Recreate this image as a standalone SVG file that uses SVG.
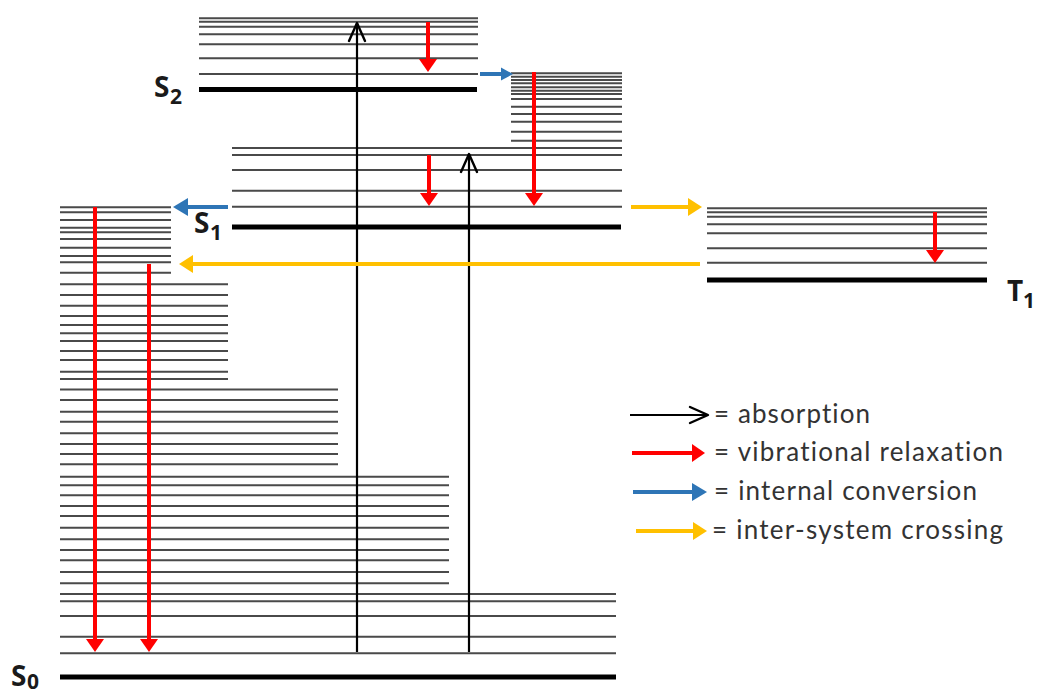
<svg xmlns="http://www.w3.org/2000/svg" width="1042" height="695" viewBox="0 0 1042 695">
<style>
.v{stroke:#4a4a4a;stroke-width:2;fill:none}
.g{stroke:#000;stroke-width:5;fill:none}
.abs{stroke:#000;stroke-width:2.2;fill:none}
.red{stroke:#ff0000;stroke-width:4;fill:none}
.blue{stroke:#2e75b6;stroke-width:4;fill:none}
.yel{stroke:#ffc000;stroke-width:4;fill:none}
.lbl{font-family:"Open Sans","Liberation Sans",sans-serif;font-weight:700;fill:#1a1a1a}
.big{font-size:28px}
.sub{font-size:21px}
.leg{font-family:Lato,"Open Sans","Liberation Sans",sans-serif;font-size:26px;fill:#333;font-variant-ligatures:none}
</style>
<defs>
<marker id="mAbs" markerUnits="userSpaceOnUse" markerWidth="40" markerHeight="40" refX="0" refY="0" orient="auto" overflow="visible"><path d="M-18,-8 L0,0 L-18,8" fill="none" stroke="#000" stroke-width="2.4" stroke-linejoin="round" stroke-linecap="round"/></marker>
<marker id="mRed" markerUnits="userSpaceOnUse" markerWidth="40" markerHeight="40" refX="0" refY="0" orient="auto" overflow="visible"><path d="M0,-9 L13,0 L0,9Z" fill="#ff0000"/></marker>
<marker id="mBlue" markerUnits="userSpaceOnUse" markerWidth="40" markerHeight="40" refX="0" refY="0" orient="auto" overflow="visible"><path d="M0,-9 L15,0 L0,9Z" fill="#2e75b6"/></marker>
<marker id="mBlueS" markerUnits="userSpaceOnUse" markerWidth="40" markerHeight="40" refX="0" refY="0" orient="auto" overflow="visible"><path d="M0,-6.5 L12,0 L0,6.5Z" fill="#2e75b6"/></marker>
<marker id="mYel" markerUnits="userSpaceOnUse" markerWidth="40" markerHeight="40" refX="0" refY="0" orient="auto" overflow="visible"><path d="M0,-9 L14,0 L0,9Z" fill="#ffc000"/></marker>
</defs>

<g id="S2">
<path class="v" d="M199,18.3H478 M199,21.7H478 M199,26.7H478 M199,34.3H478 M199,44.3H478 M199,58.3H478 M199,74H478"/>
<path class="g" d="M199,89.5H477"/>
<text class="lbl big" x="154" y="97">S</text><text class="lbl sub" x="170" y="104">2</text>
</g>

<g id="S1-upper">
<path class="v" d="M511,73.3H622 M511,76.7H622 M511,80H622 M511,83.3H622 M511,87.3H622 M511,90.7H622 M511,94H622 M511,99H622 M511,106.7H622 M511,114H622 M511,121.7H622 M511,131.7H622 M511,140.7H622"/>
</g>

<g id="S1">
<path class="v" d="M232,148H622 M232,155H622 M232,170H622 M232,190.7H622 M232,206.7H622"/>
<path class="g" d="M232,227H621"/>
<text class="lbl big" x="194" y="233">S</text><text class="lbl sub" x="210" y="240">1</text>
</g>

<g id="T1">
<path class="v" d="M707,208.3H987 M707,212.3H987 M707,216.7H987 M707,224.3H987 M707,233.3H987 M707,248.3H987 M707,262.7H987"/>
<path class="g" d="M707,280H987"/>
<text class="lbl big" x="1007" y="301">T</text><text class="lbl sub" x="1023" y="308">1</text>
</g>

<g id="S0">
<path class="v" d="M60,207.3H171 M60,212.3H171 M60,220H171 M60,227.7H171 M60,232.3H171 M60,239H171 M60,247.7H171 M60,256H171 M60,262.3H171 M60,272.7H171"/>
<path class="v" d="M60,284.3H228 M60,295H228 M60,305.7H228 M60,316H228 M60,325H228 M60,333.3H228 M60,341H228 M60,351H228 M60,360H228 M60,371.7H228 M60,379H228"/>
<path class="v" d="M60,389.5H338 M60,400H338 M60,411.7H338 M60,421.7H338 M60,433.3H338 M60,444H338 M60,454H338 M60,464.3H338"/>
<path class="v" d="M60,476.7H449 M60,485.3H449 M60,495.3H449 M60,506H449 M60,516H449 M60,527.7H449 M60,539.3H449 M60,550H449 M60,560.3H449 M60,572H449 M60,583.3H449"/>
<path class="v" d="M60,594H616 M60,601.3H616 M60,616H616 M60,636.7H616 M60,653.3H616"/>
<path class="g" d="M60,677H616"/>
<text class="lbl big" x="11" y="686">S</text><text class="lbl sub" x="27" y="689">0</text>
</g>

<g id="connectors">
<path class="abs" d="M357,652V23" marker-end="url(#mAbs)"/>
<path class="abs" d="M469,652V154" marker-end="url(#mAbs)"/>
<path class="red" d="M428,22V59" marker-end="url(#mRed)"/>
<path class="red" d="M429,155V193" marker-end="url(#mRed)"/>
<path class="red" d="M534,72V193" marker-end="url(#mRed)"/>
<path class="red" d="M935,212V250" marker-end="url(#mRed)"/>
<path class="red" d="M95,207V639" marker-end="url(#mRed)"/>
<path class="red" d="M149,264V639" marker-end="url(#mRed)"/>
<path class="blue" d="M480,74H501" marker-end="url(#mBlueS)"/>
<path class="blue" d="M228,207H188" marker-end="url(#mBlue)"/>
<path class="yel" d="M631,207H688" marker-end="url(#mYel)"/>
<path class="yel" d="M700,264H193" marker-end="url(#mYel)"/>
</g>

<g id="legend">
<path class="abs" d="M630,415H708" marker-end="url(#mAbs)"/>
<path class="red" d="M632,453H692" marker-end="url(#mRed)"/>
<path class="blue" d="M633,492H692" marker-end="url(#mBlue)"/>
<path class="yel" d="M636,531H693" marker-end="url(#mYel)"/>
<text class="leg" x="714" y="423" textLength="156" lengthAdjust="spacing">= absorption</text>
<text class="leg" x="714" y="461" textLength="289" lengthAdjust="spacing">= vibrational relaxation</text>
<text class="leg" x="714" y="500" textLength="263" lengthAdjust="spacing">= internal conversion</text>
<text class="leg" x="712" y="539" textLength="291" lengthAdjust="spacing">= inter-system crossing</text>
</g>
</svg>
